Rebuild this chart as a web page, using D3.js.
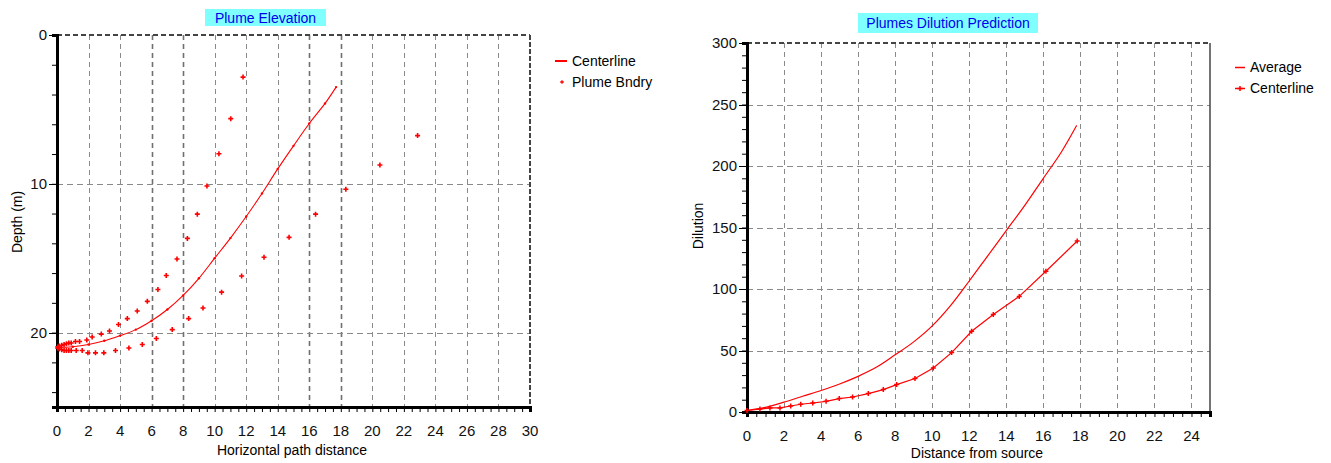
<!DOCTYPE html>
<html>
<head>
<meta charset="utf-8">
<script src="https://cdn.jsdelivr.net/npm/d3@7"></script>
<style>
  body { margin: 0; background: #fff; }
  svg { display: block; font-family: "Liberation Sans", Arial, sans-serif; }
</style>
</head>
<body>
<div id="wrapper"></div>
<script>
// ---- Plume Elevation data ----
const elevCenterX     = [0, 1, 2, 3, 4, 5, 6, 7, 8, 9, 10, 11, 12, 13, 14, 15, 16, 17, 17.7]
const elevCenterDepth = [21.0, 20.95, 20.8, 20.55, 20.2, 19.8, 19.2, 18.45, 17.5, 16.35, 15.0, 13.65, 12.2, 10.65, 9.0, 7.45, 5.95, 4.6, 3.5]

const bndryX     = [0.05, 0.15, 0.3, 0.45, 0.6, 0.75, 0.9, 1.17, 1.43, 1.89, 2.23, 2.81, 3.33, 3.9, 4.46, 5.09, 5.73, 6.4, 6.93, 7.61, 8.27, 8.9, 9.51, 10.27, 11.02, 11.8,
                    0.05, 0.15, 0.3, 0.45, 0.6, 0.75, 0.9, 1.22, 1.6, 1.96, 2.44, 2.97, 3.71, 4.56, 5.41, 6.3, 7.31, 8.35, 9.26, 10.44, 11.71, 13.13, 14.72, 16.4, 18.32, 20.48, 22.87]
const bndryDepth = [20.95, 20.9, 20.85, 20.8, 20.75, 20.7, 20.7, 20.6, 20.6, 20.5, 20.3, 20.1, 19.89, 19.46, 19.06, 18.55, 17.9, 17.1, 16.16, 15.05, 13.67, 12.04, 10.15, 7.98, 5.62, 2.83,
                    21.05, 21.1, 21.15, 21.2, 21.2, 21.2, 21.2, 21.2, 21.2, 21.36, 21.36, 21.36, 21.2, 21.03, 20.8, 20.4, 19.8, 19.06, 18.35, 17.28, 16.2, 14.94, 13.6, 12.04, 10.37, 8.74, 6.76]

const elevXTicks = [0, 2, 4, 6, 8, 10, 12, 14, 16, 18, 20, 22, 24, 26, 28, 30]
const elevYTicks = [0, 10, 20]

// ---- Dilution data ----
const dilAvgX = [0, 1, 2, 3, 4, 5, 6, 7, 8, 9, 10, 11, 12, 13, 14, 15, 16, 17, 17.8]
const dilAvgY = [1.2, 3.8, 8, 12.8, 17.5, 22.8, 29, 36.5, 46.5, 57, 70, 86.7, 106.5, 127, 147.5, 168, 190, 212, 233]

const dilCenterX = [0, 0.7, 1.24, 1.78, 2.36, 2.9, 3.55, 4.27, 4.98, 5.7, 6.55, 7.36, 8.08, 9.07, 10.06, 11.05, 12.13, 13.3, 14.7, 16.14, 17.83]
const dilCenterY = [1.2, 2.4, 3.3, 3.3, 4.9, 6.3, 7.3, 8.7, 10.9, 12.2, 15, 18.2, 22.3, 27.2, 35.8, 48.3, 65.6, 79.2, 94, 114.4, 139]

const dilXTicks = [0, 2, 4, 6, 8, 10, 12, 14, 16, 18, 20, 22, 24]
const dilYTicks = [0, 50, 100, 150, 200, 250, 300]

const red = "#ff0000"

const svg = d3.select("#wrapper")
  .append("svg")
    .attr("width", 1331)
    .attr("height", 463)

svg.append("rect").attr("width", 1331).attr("height", 463).attr("fill", "#fff")

function drawPanel(opt) {
  const x = d3.scaleLinear().domain(opt.xDomain).range([opt.left, opt.right])
  const y = d3.scaleLinear().domain(opt.yDomain).range([opt.top, opt.bottom])
  const g = svg.append("g")

  // grid
  g.selectAll(".vgrid")
    .data(opt.xTicks.filter(d => d > opt.xDomain[0] && d < opt.xDomain[1]))
    .enter().append("line")
      .attr("x1", d => Math.round(x(d)) + 0.5)
      .attr("x2", d => Math.round(x(d)) + 0.5)
      .attr("y1", opt.top)
      .attr("y2", opt.bottom)
      .attr("stroke", d => opt.darkGrid.includes(d) ? "#707070" : "#8a8a8a")
      .attr("stroke-width", d => opt.darkGrid.includes(d) ? 1.6 : 1)
      .attr("stroke-dasharray", "5,4")

  g.selectAll(".hgrid")
    .data(opt.yGrid)
    .enter().append("line")
      .attr("x1", opt.left)
      .attr("x2", opt.right)
      .attr("y1", d => Math.round(y(d)) + 0.5)
      .attr("y2", d => Math.round(y(d)) + 0.5)
      .attr("stroke", "#8a8a8a")
      .attr("stroke-dasharray", "6,4")

  // frame: dashed top, right border
  g.append("line")
      .attr("x1", opt.left).attr("x2", opt.right)
      .attr("y1", opt.top).attr("y2", opt.top)
      .attr("stroke", "#444").attr("stroke-width", 2)
      .attr("stroke-dasharray", "5,3")
  g.append("line")
      .attr("x1", opt.right).attr("x2", opt.right)
      .attr("y1", opt.top).attr("y2", opt.bottom)
      .attr("stroke", "#444").attr("stroke-width", opt.rightSolid ? 1.5 : 2)
      .attr("stroke-dasharray", opt.rightSolid ? null : "5,2")

  // x axis
  const xAxis = g.append("g")
      .attr("transform", `translate(0,${opt.bottom})`)
      .call(d3.axisBottom(x).tickValues(d3.range(opt.xDomain[0], opt.xDomain[1] + 0.01, 0.5)).tickSize(5).tickFormat(""))
  xAxis.select(".domain").attr("stroke", "#000").attr("stroke-width", 3)
  xAxis.selectAll(".tick line").attr("stroke", "#000")

  g.selectAll(".xlab")
    .data(opt.xTicks)
    .enter().append("text")
      .attr("x", d => x(d))
      .attr("y", opt.bottom + 29)
      .attr("text-anchor", "middle")
      .attr("font-size", 15)
      .attr("fill", "#111")
      .text(d => d)

  // y axis
  const yAxis = g.append("g")
      .attr("transform", `translate(${opt.left},0)`)
      .call(d3.axisLeft(y).tickValues(opt.yMinor).tickSize(5).tickFormat(""))
  yAxis.select(".domain").attr("stroke", "#000").attr("stroke-width", 3)
  yAxis.selectAll(".tick line").attr("stroke", "#000")
  g.selectAll(".ymaj")
    .data(opt.yTicks)
    .enter().append("line")
      .attr("x1", opt.left - 8).attr("x2", opt.left)
      .attr("y1", d => Math.round(y(d)) + 0.5).attr("y2", d => Math.round(y(d)) + 0.5)
      .attr("stroke", "#000")

  g.selectAll(".ylab")
    .data(opt.yTicks)
    .enter().append("text")
      .attr("x", opt.left - 10)
      .attr("y", d => y(d) + 5)
      .attr("text-anchor", "end")
      .attr("font-size", 15)
      .attr("fill", "#111")
      .text(d => d)

  // axis titles
  g.append("text")
      .attr("x", opt.xTitlePos[0]).attr("y", opt.xTitlePos[1])
      .attr("text-anchor", "middle")
      .attr("font-size", 14)
      .text(opt.xTitle)
  g.append("text")
      .attr("transform", `translate(${opt.yTitlePos[0]},${opt.yTitlePos[1]}) rotate(-90)`)
      .attr("text-anchor", "middle")
      .attr("font-size", 14)
      .text(opt.yTitle)

  // chart title box
  g.append("rect")
      .attr("x", opt.titleBox[0]).attr("y", opt.titleBox[1])
      .attr("width", opt.titleBox[2]).attr("height", opt.titleBox[3])
      .attr("fill", "#80ffff")
  g.append("text")
      .attr("x", opt.titleBox[0] + opt.titleBox[2] / 2)
      .attr("y", opt.titleBox[1] + opt.titleBox[3] / 2 + 5)
      .attr("text-anchor", "middle")
      .attr("font-size", 14)
      .attr("fill", "#0000ee")
      .text(opt.title)

  return { x, y, g }
}

function plus(sel, size, width) {
  sel.append("path")
    .attr("d", `M${-size},0H${size}M0,${-size}V${size}`)
    .attr("stroke", red)
    .attr("stroke-width", width)
    .attr("fill", "none")
}

// ---- left: Plume Elevation ----
const left = drawPanel({
  xDomain: [0, 30], yDomain: [0, 25],
  left: 57, right: 530, top: 35, bottom: 407,
  xTicks: elevXTicks, yTicks: elevYTicks, yGrid: [10, 20],
  yMinor: d3.range(0, 25.01, 2),
  darkGrid: [6, 8, 16, 18],
  rightSolid: false,
  xTitle: "Horizontal path distance", xTitlePos: [292, 455],
  yTitle: "Depth (m)", yTitlePos: [22, 222],
  title: "Plume Elevation", titleBox: [205, 9, 121, 17]
})

const elevLine = d3.line()
  .x(i => left.x(elevCenterX[i]))
  .y(i => left.y(elevCenterDepth[i]))
  .curve(d3.curveCatmullRom)

left.g.append("path")
    .attr("d", elevLine(d3.range(elevCenterX.length)))
    .attr("fill", "none")
    .attr("stroke", red)
    .attr("stroke-width", 1.1)

left.g.selectAll(".cdot")
  .data(d3.range(elevCenterX.length))
  .enter().append("circle")
    .attr("cx", i => left.x(elevCenterX[i]))
    .attr("cy", i => left.y(elevCenterDepth[i]))
    .attr("r", 1.2)
    .attr("fill", red)

left.g.selectAll(".bnd")
  .data(d3.range(bndryX.length))
  .enter().append("g")
    .attr("transform", i => `translate(${left.x(bndryX[i])},${left.y(bndryDepth[i])})`)
    .call(plus, 2.5, 1.6)

// left legend
left.g.append("line")
    .attr("x1", 555).attr("x2", 567).attr("y1", 61).attr("y2", 61)
    .attr("stroke", red).attr("stroke-width", 2)
left.g.append("text").attr("x", 572).attr("y", 66).attr("font-size", 14).text("Centerline")
left.g.append("g").attr("transform", "translate(562,82)").call(plus, 1.8, 1.3)
left.g.append("text").attr("x", 572).attr("y", 87).attr("font-size", 14).text("Plume Bndry")

// ---- right: Plumes Dilution Prediction ----
const right = drawPanel({
  xDomain: [0, 25], yDomain: [300, 0],
  left: 747, right: 1210, top: 43, bottom: 412,
  xTicks: dilXTicks, yTicks: dilYTicks, yGrid: [50, 100, 150, 200, 250],
  yMinor: d3.range(0, 300.01, 10),
  darkGrid: [],
  rightSolid: true,
  xTitle: "Distance from source", xTitlePos: [977, 458],
  yTitle: "Dilution", yTitlePos: [703, 226],
  title: "Plumes Dilution Prediction", titleBox: [858, 13, 180, 20]
})

const avgLine = d3.line()
  .x(i => right.x(dilAvgX[i]))
  .y(i => right.y(dilAvgY[i]))
  .curve(d3.curveMonotoneX)

right.g.append("path")
    .attr("d", avgLine(d3.range(dilAvgX.length)))
    .attr("fill", "none")
    .attr("stroke", red)
    .attr("stroke-width", 1.2)

const cenLine = d3.line()
  .x(i => right.x(dilCenterX[i]))
  .y(i => right.y(dilCenterY[i]))

right.g.append("path")
    .attr("d", cenLine(d3.range(dilCenterX.length)))
    .attr("fill", "none")
    .attr("stroke", red)
    .attr("stroke-width", 1.2)

right.g.selectAll(".cm")
  .data(d3.range(dilCenterX.length))
  .enter().append("g")
    .attr("transform", i => `translate(${right.x(dilCenterX[i])},${right.y(dilCenterY[i])})`)
    .call(plus, 2.5, 1.5)

// right legend
right.g.append("line")
    .attr("x1", 1235).attr("x2", 1245).attr("y1", 67.5).attr("y2", 67.5)
    .attr("stroke", red).attr("stroke-width", 1.5)
right.g.append("text").attr("x", 1250).attr("y", 72).attr("font-size", 14).text("Average")
right.g.append("line")
    .attr("x1", 1235).attr("x2", 1245).attr("y1", 88.5).attr("y2", 88.5)
    .attr("stroke", red).attr("stroke-width", 1.5)
right.g.append("g").attr("transform", "translate(1240,88.5)").call(plus, 2.5, 1.5)
right.g.append("text").attr("x", 1250).attr("y", 93).attr("font-size", 14).text("Centerline")
</script>
</body>
</html>
